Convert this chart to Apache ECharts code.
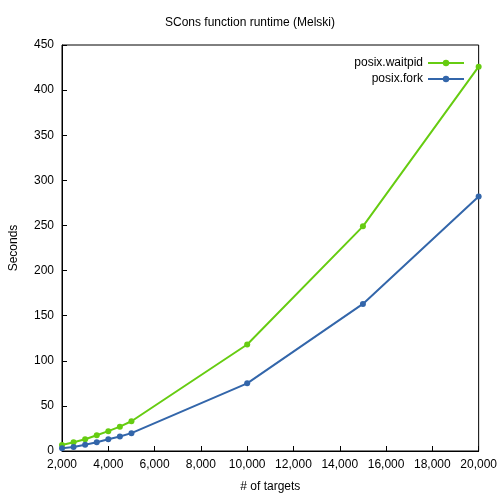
<!DOCTYPE html>
<html>
<head>
<meta charset="utf-8">
<script src="https://cdn.jsdelivr.net/npm/echarts@6/dist/echarts.min.js"></script>
<style>html,body{margin:0;padding:0;background:#fff}</style>
</head>
<body>
<div id="chart" style="width:500px;height:500px"></div>
<script>
const targets = [2000, 2500, 3000, 3500, 4000, 4500, 5000, 10000, 15000, 20000];
const waitpid = [6.6, 9.6, 13, 17.5, 22, 27, 33, 118, 249, 426];
const fork = [3, 4.5, 7, 9.6, 13, 16, 19.8, 75, 163, 282];

const myChart = echarts.init(document.getElementById('chart'));
const font = 'Liberation Sans';
const pair = ys => targets.map((x, i) => [x, ys[i]]);
const axisCommon = {
    axisLine: {show: true, lineStyle: {color: '#000'}},
    axisTick: {show: true, inside: true, lineStyle: {color: '#000'}},
    splitLine: {show: false},
    axisLabel: {color: '#000', fontFamily: font, fontSize: 12}
};
const option = {
    animation: false,
    title: {text: 'SCons function runtime (Melski)', left: 'center', top: 12,
        textStyle: {fontFamily: font, fontSize: 12, fontWeight: 'normal', color: '#000'}},
    grid: {left: 61, right: 20, top: 45, bottom: 49, show: true, borderColor: '#000', borderWidth: 1},
    legend: {
        right: 30, top: 52, orient: 'vertical', align: 'right', itemGap: 4,
        itemWidth: 36, itemHeight: 8,
        textStyle: {fontFamily: font, fontSize: 12, color: '#000'},
        data: ['posix.waitpid', 'posix.fork']
    },
    xAxis: Object.assign({
        type: 'value', min: 2000, max: 20000, interval: 2000,
        name: '# of targets', nameLocation: 'middle', nameGap: 30,
        nameTextStyle: {fontFamily: font, fontSize: 12, color: '#000'}
    }, axisCommon),
    yAxis: Object.assign({
        type: 'value', min: 0, max: 450, interval: 50,
        name: 'Seconds', nameLocation: 'middle', nameGap: 42,
        nameTextStyle: {fontFamily: font, fontSize: 12, color: '#000'}
    }, axisCommon),
    series: [
        {name: 'posix.waitpid', type: 'line', data: pair(waitpid), symbol: 'circle', symbolSize: 6,
         itemStyle: {color: '#66cc11'}, lineStyle: {width: 2, color: '#66cc11'}},
        {name: 'posix.fork', type: 'line', data: pair(fork), symbol: 'circle', symbolSize: 6,
         itemStyle: {color: '#3366aa'}, lineStyle: {width: 2, color: '#3366aa'}}
    ]
};
option && myChart.setOption(option);
</script>
</body>
</html>
